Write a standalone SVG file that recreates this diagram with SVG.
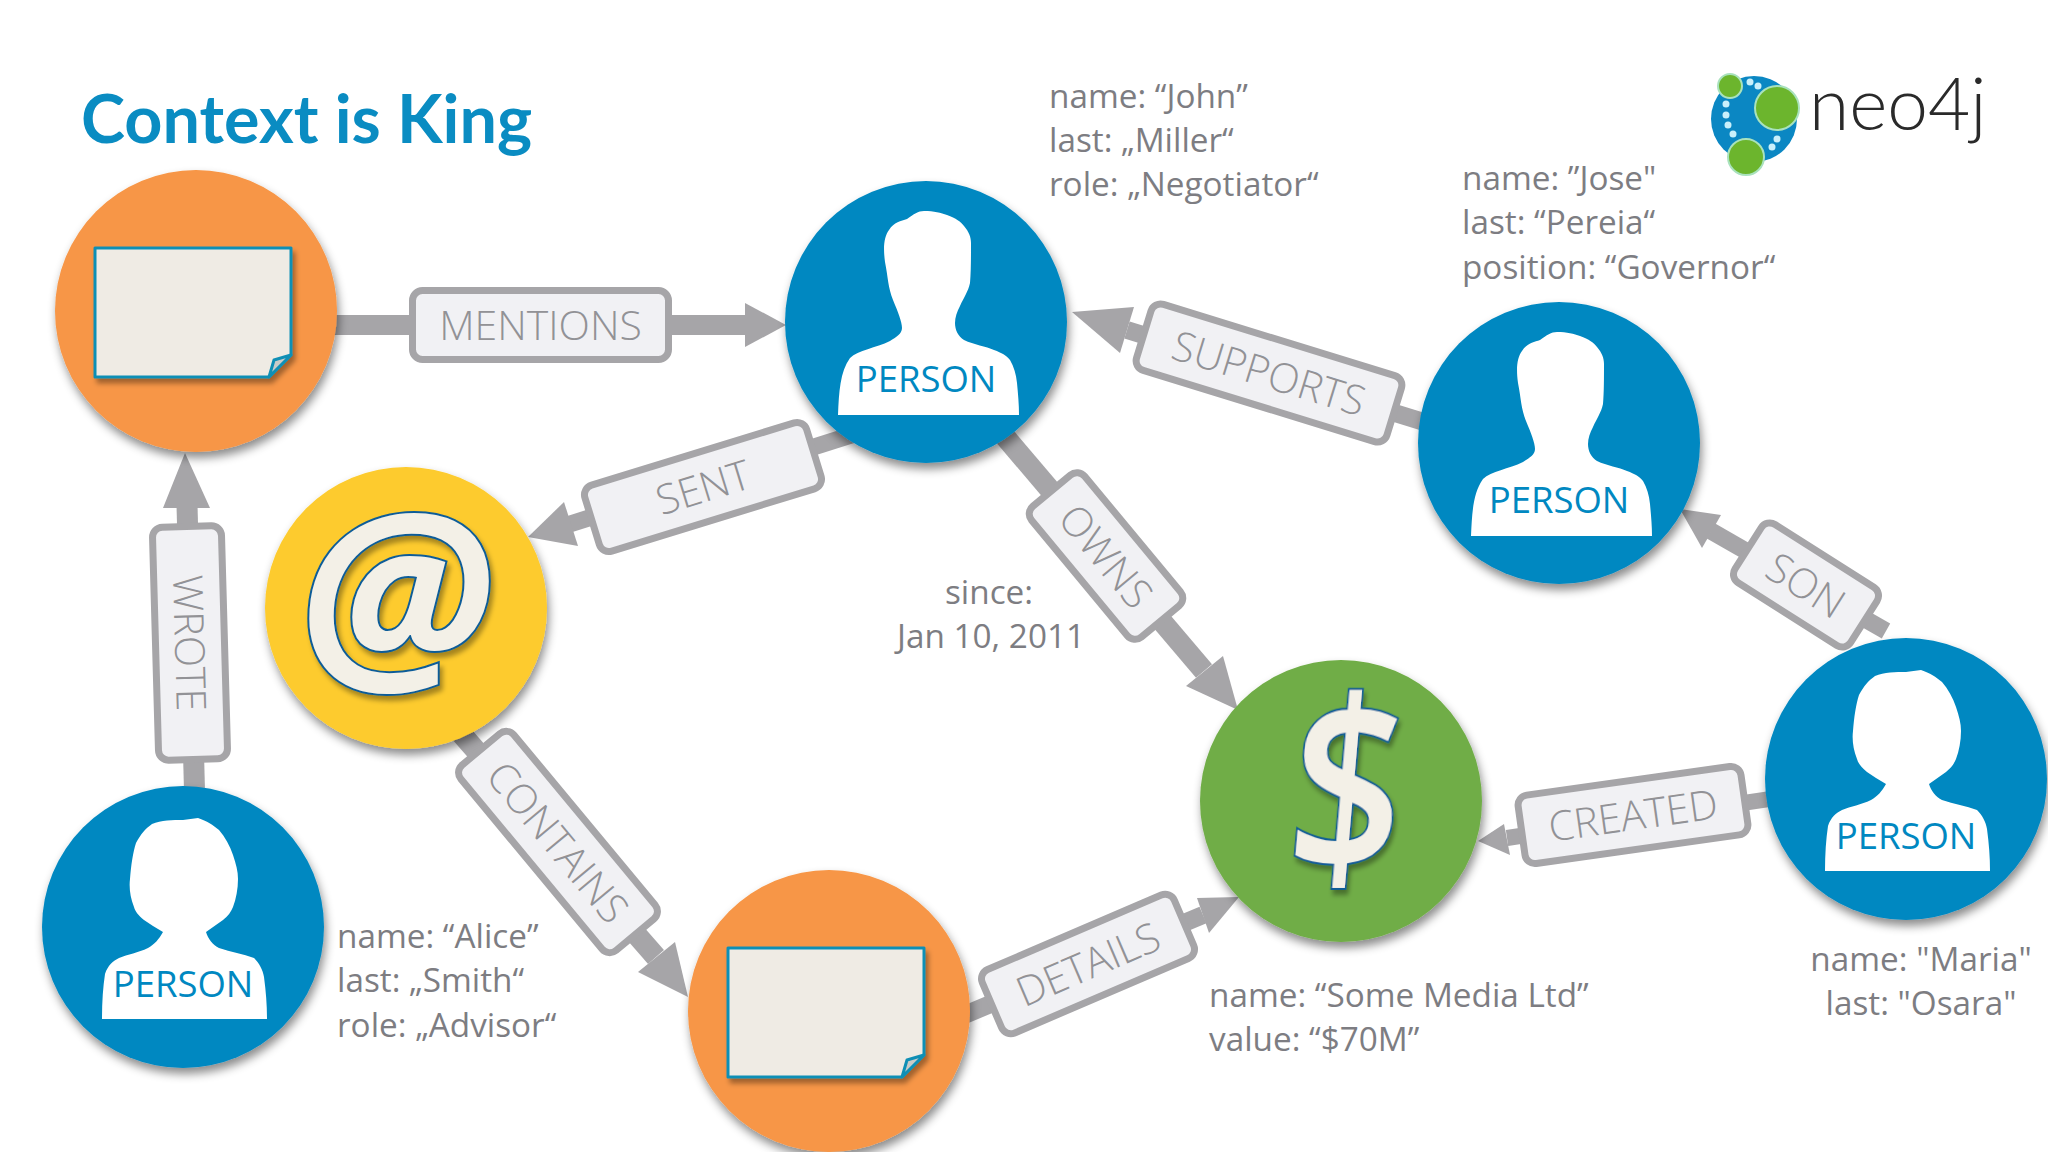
<svg xmlns="http://www.w3.org/2000/svg" width="2048" height="1152" viewBox="0 0 2048 1152">
<defs>
<style>
.stem{stroke:#a6a5a8;fill:none}
.head{fill:#a6a5a8}
.box{fill:#f1f1f4;stroke:#a6a5a8;stroke-width:7}
.lbl{font-family:"Open Sans",sans-serif;font-weight:300;font-size:41px;fill:#929296;text-anchor:middle}
.prop{font-family:"Open Sans",sans-serif;font-size:33.300px;fill:#7d7d82}
.mid{text-anchor:middle}
.blue{fill:#0088c1}
.ptxt{font-family:"Open Sans",sans-serif;font-size:36.500px;fill:#0088c1;text-anchor:middle}
.doc{fill:#efebe4;stroke:#0f8fb5;stroke-width:3;stroke-linejoin:round}
.flap{fill:#c9cbc8;stroke:#0f8fb5;stroke-width:3;stroke-linejoin:round}
.glyph{fill:#f3f0e7;stroke:#0c5c98;stroke-width:4;paint-order:stroke;text-anchor:middle;font-family:"Open Sans",sans-serif}
.dot{fill:#c9f0fb}
.lg{fill:#6cb52d;stroke:#a9e2bd;stroke-width:2}
</style>
<filter id="sh" x="-20%" y="-20%" width="140%" height="140%"><feDropShadow dx="2" dy="6" stdDeviation="5" flood-color="#000" flood-opacity=".45"/></filter>
<filter id="ds" x="-20%" y="-20%" width="140%" height="140%"><feDropShadow dx="3" dy="5" stdDeviation="2.5" flood-color="#000" flood-opacity=".35"/></filter>
<path id="male" fill="#fff" d="M-88,93C-87,70 -86,50 -76,36C-68,28 -50,26 -36,19C-30,15 -24,12 -24,6C-24,0 -28,-10 -33,-22C-38,-34 -38,-45 -41,-60C-43,-75 -42,-85 -37,-92C-32,-100 -25,-101 -19,-103C-12,-108 -8,-111 -2,-111C8,-111 15,-109 21,-107C30,-104 35,-100 38,-96C43,-90 45,-85 45,-79C45,-65 45,-50 44,-39C42,-30 38,-25 34,-16C31,-10 29,-5 29,1C29,8 32,14 38,18C48,23 60,24 68,28C76,31 80,33 84,38C88,45 90,52 91,61C92,72 93,82 93,93Z"/>
<path id="female" fill="#fff" d="M-81,92C-81,75 -80,60 -78,47C-75,38 -70,34 -64,31C-55,27 -45,26 -35,21C-28,17 -24,12 -20,5L-30,-1L-39,-7C-45,-12 -48,-16 -49,-20C-53,-30 -54,-40 -53,-48C-52,-62 -50,-75 -47,-84C-42,-93 -38,-98 -31,-103C-22,-107 -10,-107 0,-107L15,-109C24,-106 30,-102 36,-97C42,-90 47,-81 50,-72C53,-63 55,-56 55,-48C55,-38 53,-28 50,-20C48,-15 45,-11 40,-7L23,5C25,12 30,18 36,21C48,25 60,27 71,31C76,36 80,43 81,50C83,65 84,78 84,92Z"/>
<g id="docicon"><path class="doc" filter="url(#ds)" d="M-101,-63H95V44L73,66H-101Z"/><path class="flap" d="M73,66L95,44L78,49Z"/></g>
</defs>
<rect width="2048" height="1152" fill="#fff"/>
<text x="81" y="143" font-family="Lato,sans-serif" font-weight="700" font-size="66.500" fill="#0a8cc2">Context is King</text>

<g id="connectors">
<g id="e-mentions"><line class="stem" stroke-width="20" x1="320" y1="325" x2="750" y2="325"/><polygon class="head" points="786,325 745,303 745,347"/><rect class="box" x="-128" y="-34.500" width="256" height="69" rx="10" transform="translate(540.500,325)"/><text class="lbl" transform="translate(540.500,325)" y="15">MENTIONS</text></g>
<g id="e-supports"><line class="stem" stroke-width="18" x1="1440" y1="427" x2="1127" y2="330"/><polygon class="head" points="1072,312 1134,307 1120,353"/><rect class="box" x="-131" y="-34.500" width="262" height="69" rx="10" transform="translate(1269,373) rotate(17.100)"/><text class="lbl" transform="translate(1269,373) rotate(17.100)" y="15">SUPPORTS</text></g>
<g id="e-sent"><line class="stem" stroke-width="17" x1="880" y1="426" x2="570" y2="524"/><polygon class="head" points="528,537 578,546 564,502"/><rect class="box" x="-116" y="-34.500" width="232" height="69" rx="10" transform="translate(703,487) rotate(-17.100)"/><text class="lbl" transform="translate(703,487) rotate(-17.100)" y="15">SENT</text></g>
<g id="e-owns"><line class="stem" stroke-width="21" x1="990" y1="419" x2="1204" y2="671"/><polygon class="head" points="1238,710 1186,686 1223,656"/><rect class="box" x="-85" y="-34.500" width="170" height="69" rx="10" transform="translate(1106,556) rotate(50.300)"/><text class="lbl" transform="translate(1106,556) rotate(50.300)" y="15">OWNS</text></g>
<g id="e-contains"><line class="stem" stroke-width="21" x1="445" y1="715" x2="656" y2="957"/><polygon class="head" points="688,997 638,972 675,942"/><rect class="box" x="-120.500" y="-34.500" width="241" height="69" rx="10" transform="translate(558,842) rotate(50.300)"/><text class="lbl" transform="translate(558,842) rotate(50.300)" y="15">CONTAINS</text></g>
<g id="e-wrote"><line class="stem" stroke-width="21" x1="195" y1="810" x2="187" y2="505"/><polygon class="head" points="185,453 163,508 210,508"/><rect class="box" x="-116.500" y="-34.500" width="233" height="69" rx="10" transform="translate(190,643) rotate(88.400)"/><text class="lbl" transform="translate(190,643) rotate(88.400)" y="15">WROTE</text></g>
<g id="e-details"><line class="stem" stroke-width="18" x1="950" y1="1021" x2="1203" y2="915"/><polygon class="head" points="1239,897 1197,898 1209,933"/><rect class="box" x="-104.500" y="-34.500" width="209" height="69" rx="10" transform="translate(1088,964) rotate(-23.200)"/><text class="lbl" transform="translate(1088,964) rotate(-23.200)" y="15">DETAILS</text></g>
<g id="e-created"><line class="stem" stroke-width="16" x1="1790" y1="796" x2="1507" y2="838"/><polygon class="head" points="1478,841 1504,824 1510,855"/><rect class="box" x="-112.500" y="-34.500" width="225" height="69" rx="10" transform="translate(1633,815) rotate(-8)"/><text class="lbl" transform="translate(1633,815) rotate(-8)" y="15">CREATED</text></g>
<g id="e-son"><line class="stem" stroke-width="17" x1="1886" y1="631" x2="1711" y2="531"/><polygon class="head" points="1680,509 1721,515 1702,548"/><rect class="box" x="-68.500" y="-34.500" width="137" height="69" rx="10" transform="translate(1806,585) rotate(32.400)"/><text class="lbl" transform="translate(1806,585) rotate(32.400)" y="15">SON</text></g>
</g>

<g id="n-doc1" transform="translate(196,311)"><circle r="141" fill="#f79646" filter="url(#sh)"/><use href="#docicon"/></g>
<g id="n-john" transform="translate(926,322)"><circle class="blue" r="141" filter="url(#sh)"/><use href="#male"/><text class="ptxt" y="70">PERSON</text></g>
<g id="n-jose" transform="translate(1559,443)"><circle class="blue" r="141" filter="url(#sh)"/><use href="#male"/><text class="ptxt" y="70">PERSON</text></g>
<g id="n-maria" transform="translate(1906,779)"><circle class="blue" r="141" filter="url(#sh)"/><use href="#female"/><text class="ptxt" y="70">PERSON</text></g>
<g id="n-alice" transform="translate(183,927)"><circle class="blue" r="141" filter="url(#sh)"/><use href="#female"/><text class="ptxt" y="70">PERSON</text></g>
<g id="n-email" transform="translate(406,608)"><circle r="141" fill="#fdcb2e" filter="url(#sh)"/><text class="glyph" filter="url(#ds)" font-size="224" font-weight="700" font-style="italic" x="-11" y="66">@</text></g>
<g id="n-money" transform="translate(1341,801)"><circle r="141" fill="#70ad47" filter="url(#sh)"/><text class="glyph" filter="url(#ds)" font-size="242" font-weight="600" transform="translate(-1,73) skewX(-5) scale(.82,1)">$</text></g>
<g id="n-doc2" transform="translate(829,1011)"><circle r="141" fill="#f79646" filter="url(#sh)"/><use href="#docicon"/></g>

<g id="props">
<text class="prop" x="337" y="948">name: “Alice”</text>
<text class="prop" x="337" y="992">last: „Smith“</text>
<text class="prop" x="337" y="1037">role: „Advisor“</text>
<text class="prop" x="1049" y="108">name: “John”</text>
<text class="prop" x="1049" y="152">last: „Miller“</text>
<text class="prop" x="1049" y="196">role: „Negotiator“</text>
<text class="prop" x="1462" y="190">name: ”Jose"</text>
<text class="prop" x="1462" y="234">last: “Pereia“</text>
<text class="prop" x="1462" y="279">position: “Governor“</text>
<text class="prop mid" x="989" y="604">since:</text>
<text class="prop mid" x="991" y="648">Jan 10, 2011</text>
<text class="prop" x="1209" y="1007">name: “Some Media Ltd”</text>
<text class="prop" x="1209" y="1051">value: “$70M”</text>
<text class="prop mid" x="1921" y="971">name: "Maria"</text>
<text class="prop mid" x="1921" y="1015">last: "Osara"</text>
</g>

<g id="logo">
<circle cx="1754" cy="119" r="43" fill="#0b87c3"/>
<circle class="dot" cx="1750" cy="82" r="3.500"/><circle class="dot" cx="1758" cy="86" r="3.500"/><circle class="dot" cx="1726" cy="104" r="3.500"/><circle class="dot" cx="1726" cy="115" r="3.500"/><circle class="dot" cx="1728" cy="125" r="3.500"/><circle class="dot" cx="1733" cy="134" r="3.500"/><circle class="dot" cx="1772" cy="147" r="3.500"/><circle class="dot" cx="1777" cy="139" r="3.500"/>
<circle class="lg" cx="1777" cy="108" r="22"/><circle class="lg" cx="1730" cy="86" r="12"/><circle class="lg" cx="1746" cy="157" r="18"/>
<text x="1809" y="130" font-family="Lato,sans-serif" font-weight="300" font-size="73" fill="#2a2a2a">neo4j</text>
</g>
</svg>
